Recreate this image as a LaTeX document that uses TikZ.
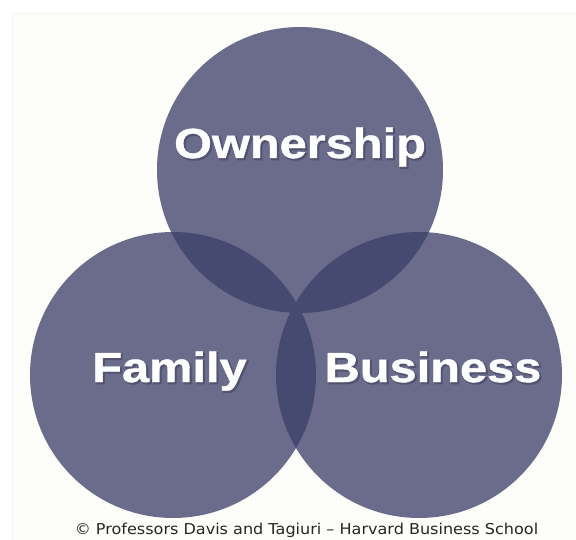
\documentclass[tikz,border=0pt]{standalone}
\usepackage{fontspec}
\usepackage[]{xcolor}
\newfontfamily\titlefont[FakeStretch=1.16,FakeBold=1]{Liberation Sans Bold}
\newfontfamily\halofont[FakeStretch=1.16,FakeBold=4]{Liberation Sans Bold}
\newfontfamily\notefont[FakeStretch=1.07]{DejaVu Sans}
\definecolor{ringblue}{RGB}{107,108,140}
\definecolor{lensblue}{RGB}{70,74,112}
\definecolor{haloblue}{RGB}{82,83,112}
\newcommand{\haloword}[1]{\makebox[0pt][l]{\hspace{1.5pt}\raisebox{-1.5pt}{\halofont\color{haloblue}#1}}#1}

\begin{document}
\begin{tikzpicture}[x = 1pt, y = -1pt]
\useasboundingbox (0,0) rectangle (576,540);
\path [fill=white] (0,0) rectangle (576,540);
\path [fill={rgb,255:red,253;green,253;blue,250}, draw={rgb,255:red,244;green,244;blue,240}] (12,13) rectangle (577,541);
\coordinate (own) at (300,170);
\coordinate (fam) at (173,375);
\coordinate (bus) at (419,375);
\path [fill=ringblue] (own) circle (143);
\path [fill=ringblue] (fam) circle (143);
\path [fill=ringblue] (bus) circle (143);
\begin{scope} % overlaps
\clip (own) circle (143);
\path [fill=lensblue] (fam) circle (143);
\path [fill=lensblue] (bus) circle (143);
\end{scope}
\begin{scope}
\clip (fam) circle (143);
\path [fill=lensblue] (bus) circle (143);
\end{scope}
\tikzset{label text/.style = {text = white, font = \titlefont\fontsize{42}{42}\selectfont, inner sep = 0pt, anchor = base}}
\node [label text] (ownership) at (300,158) {\haloword{Ownership}};
\node [label text] (family) at (169.5,382) {\haloword{Family}};
\node [label text] (business) at (433,382) {\haloword{Business}};
\node [font = \notefont\fontsize{15}{15}\selectfont, text = black!85, inner sep = 0pt, anchor = base] (credit) at (306.5,534) {© Professors Davis and Tagiuri – Harvard Business School};
\end{tikzpicture}
\end{document}
